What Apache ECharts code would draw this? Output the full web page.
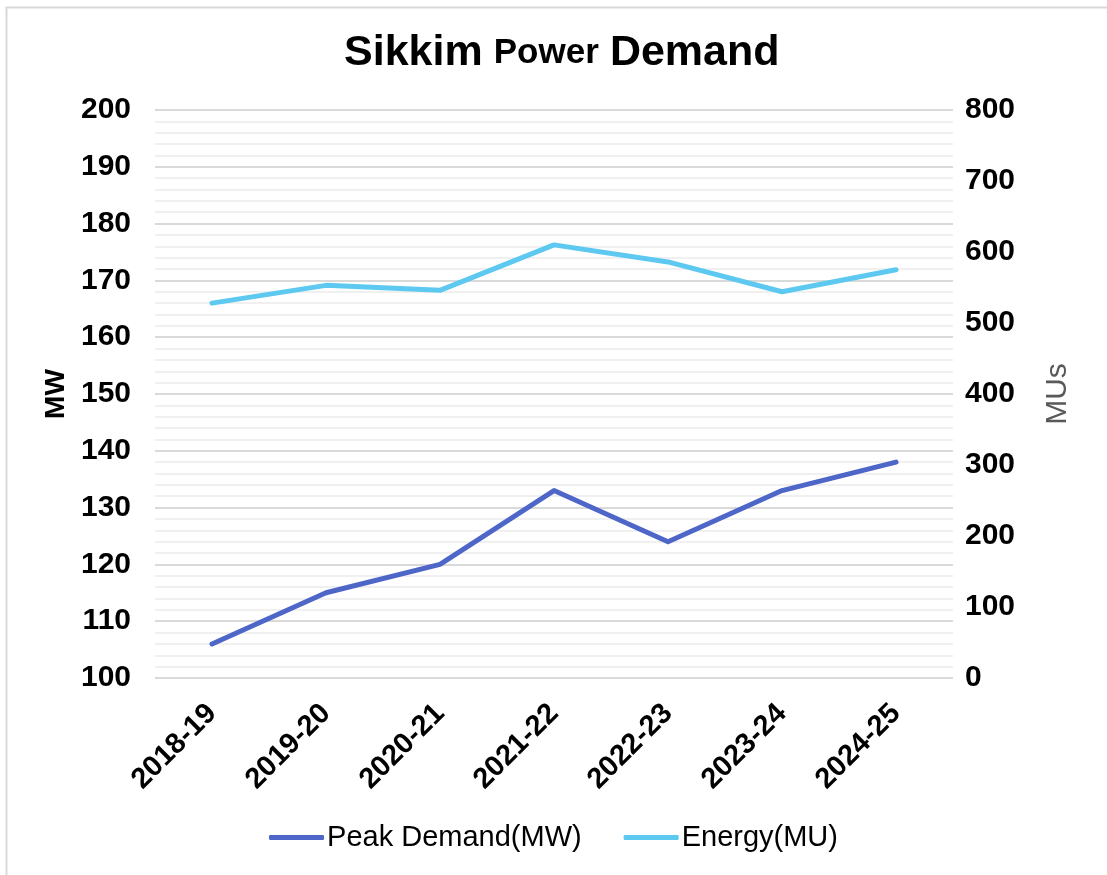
<!DOCTYPE html>
<html>
<head>
<meta charset="utf-8">
<script src="https://cdn.jsdelivr.net/npm/echarts@6/dist/echarts.min.js"></script>
<style>
  html, body { margin: 0; padding: 0; background: #fff; }
  #chart { width: 1107px; height: 875px; }
</style>
</head>
<body>
<div id="chart"></div>
<script>
// data
const years = ["2018-19", "2019-20", "2020-21", "2021-22", "2022-23", "2023-24", "2024-25"];
const peakDemand = [106, 115, 120, 133, 124, 133, 138];   // MW, left axis
const energy = [528, 553, 546, 610, 586, 544, 575];        // MU, right axis

const FONT = "'Liberation Sans', Arial, sans-serif";
const peakColor = "#4f66c9";
const energyColor = "#5dc9f1";

let chart = echarts.init(document.getElementById("chart"));

chart.setOption({
  backgroundColor: "#fff",
  textStyle: { fontFamily: FONT },
  title: {
    text: "{big|Sikkim}{sp| }{mid|Power}{sp| }{big|Demand}",
    left: 339,
    top: 27,
    textStyle: {
      rich: {
        big: { fontFamily: FONT, fontSize: 43, fontWeight: "bold", color: "#000" },
        mid: { fontFamily: FONT, fontSize: 35, fontWeight: "bold", color: "#000" },
        sp: { fontFamily: FONT, fontSize: 40, fontWeight: "bold", color: "#000" }
      }
    }
  },
  graphic: [{
    type: "rect",
    shape: { x: 6.5, y: 7.5, width: 1200, height: 1000 },
    style: { fill: "none", stroke: "#d9d9d9", lineWidth: 2 },
    silent: true
  }],
  legend: {
    bottom: 18,
    left: "center",
    itemWidth: 55,
    itemHeight: 5,
    itemGap: 42,
    icon: "roundRect",
    textStyle: { fontFamily: FONT, fontSize: 29, color: "#000", padding: [0, 0, 0, -2] },
    data: ["Peak Demand(MW)", "Energy(MU)"]
  },
  grid: { left: 155, right: 154, top: 110, bottom: 197, containLabel: false },
  xAxis: {
    type: "category",
    data: years,
    boundaryGap: true,
    axisLine: { show: false },
    axisTick: { show: false },
    axisLabel: {
      rotate: 45,
      margin: 31,
      fontFamily: FONT,
      fontSize: 29,
      fontWeight: "bold",
      color: "#000"
    }
  },
  yAxis: [{
    type: "value",
    min: 100,
    max: 200,
    interval: 10,
    name: "MW",
    nameLocation: "middle",
    nameGap: 84,
    nameRotate: 90,
    nameTextStyle: { fontFamily: FONT, fontSize: 28, fontWeight: "bold", color: "#000" },
    axisLine: { show: false },
    axisTick: { show: false },
    axisLabel: { margin: 24, fontFamily: FONT, fontSize: 30, fontWeight: "bold", color: "#000" },
    splitLine: { lineStyle: { color: "#d9d9d9", width: 2 } },
    minorTick: { show: false, splitNumber: 5 },
    minorSplitLine: { show: true, lineStyle: { color: "#f0f0f0", width: 2 } }
  }, {
    type: "value",
    min: 0,
    max: 800,
    interval: 100,
    name: "MUs",
    nameLocation: "middle",
    nameGap: 90,
    nameRotate: 90,
    nameTextStyle: { fontFamily: FONT, fontSize: 30, color: "#595959" },
    axisLine: { show: false },
    axisTick: { show: false },
    axisLabel: { margin: 12, fontFamily: FONT, fontSize: 30, fontWeight: "bold", color: "#000" },
    splitLine: { show: false }
  }],
  series: [{
    name: "Peak Demand(MW)",
    type: "line",
    yAxisIndex: 0,
    data: peakDemand,
    symbol: "none",
    color: peakColor,
    lineStyle: { width: 5, color: peakColor, cap: "round", join: "round" }
  }, {
    name: "Energy(MU)",
    type: "line",
    yAxisIndex: 1,
    data: energy,
    symbol: "none",
    color: energyColor,
    lineStyle: { width: 5, color: energyColor, cap: "round", join: "round" }
  }]
});
</script>
</body>
</html>
